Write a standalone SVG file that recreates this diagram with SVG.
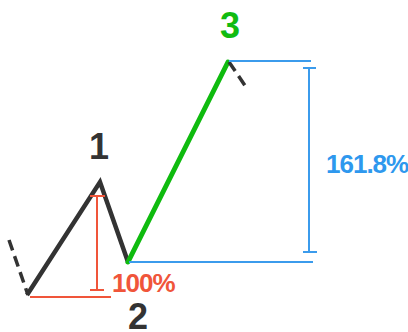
<svg xmlns="http://www.w3.org/2000/svg" width="408" height="332" viewBox="0 0 408 332">
<style>
.wave{fill:none;stroke:#333;stroke-width:4.5;stroke-linejoin:miter;stroke-linecap:butt}
.dash{fill:none;stroke:#333;stroke-width:3.5;stroke-dasharray:11 6}
.green{fill:none;stroke:#0fbb0f;stroke-width:5;stroke-linecap:round}
.blue{fill:none;stroke:#3b9bec;stroke-width:2}
.red{fill:none;stroke:#f0553a;stroke-width:2}
.num{font-family:"Liberation Sans",Arial,sans-serif;font-weight:bold;font-size:36px;text-anchor:middle}
.pct{font-family:"Liberation Sans",Arial,sans-serif;font-weight:bold;font-size:26px;letter-spacing:-1px}
</style>
<rect width="408" height="332" fill="#fff"/>
<g id="connectors">
  <line class="dash" x1="9" y1="240" x2="28" y2="295"/>
  <polyline class="wave" points="27,295 100,182 128,262"/>
  <line class="green" x1="128" y1="262" x2="228" y2="62"/>
  <line class="dash" x1="229" y1="62" x2="246" y2="87"/>
</g>
<g id="measure-100">
  <line class="red" x1="30" y1="297" x2="111" y2="297"/>
  <line class="red" x1="97" y1="196" x2="97" y2="290"/>
  <line class="red" x1="90" y1="196" x2="105" y2="196"/>
  <line class="red" x1="90" y1="290" x2="104" y2="290"/>
</g>
<g id="measure-1618">
  <line class="blue" x1="229" y1="61" x2="311" y2="61"/>
  <line class="blue" x1="129" y1="262" x2="313" y2="262"/>
  <line class="blue" x1="309" y1="68" x2="309" y2="252"/>
  <line class="blue" x1="303" y1="68" x2="316" y2="68"/>
  <line class="blue" x1="303" y1="252" x2="317" y2="252"/>
</g>
<g id="label-1"><text class="num" x="99" y="159" fill="#333">1</text></g>
<g id="label-2"><text class="num" x="138" y="329" fill="#333">2</text></g>
<g id="label-3"><text class="num" x="230" y="38" fill="#11bb11">3</text></g>
<g id="label-100"><text class="pct" x="112" y="292" fill="#f0553a">100%</text></g>
<g id="label-1618"><text class="pct" x="326" y="173" fill="#2e98ee">161.8%</text></g>
</svg>
